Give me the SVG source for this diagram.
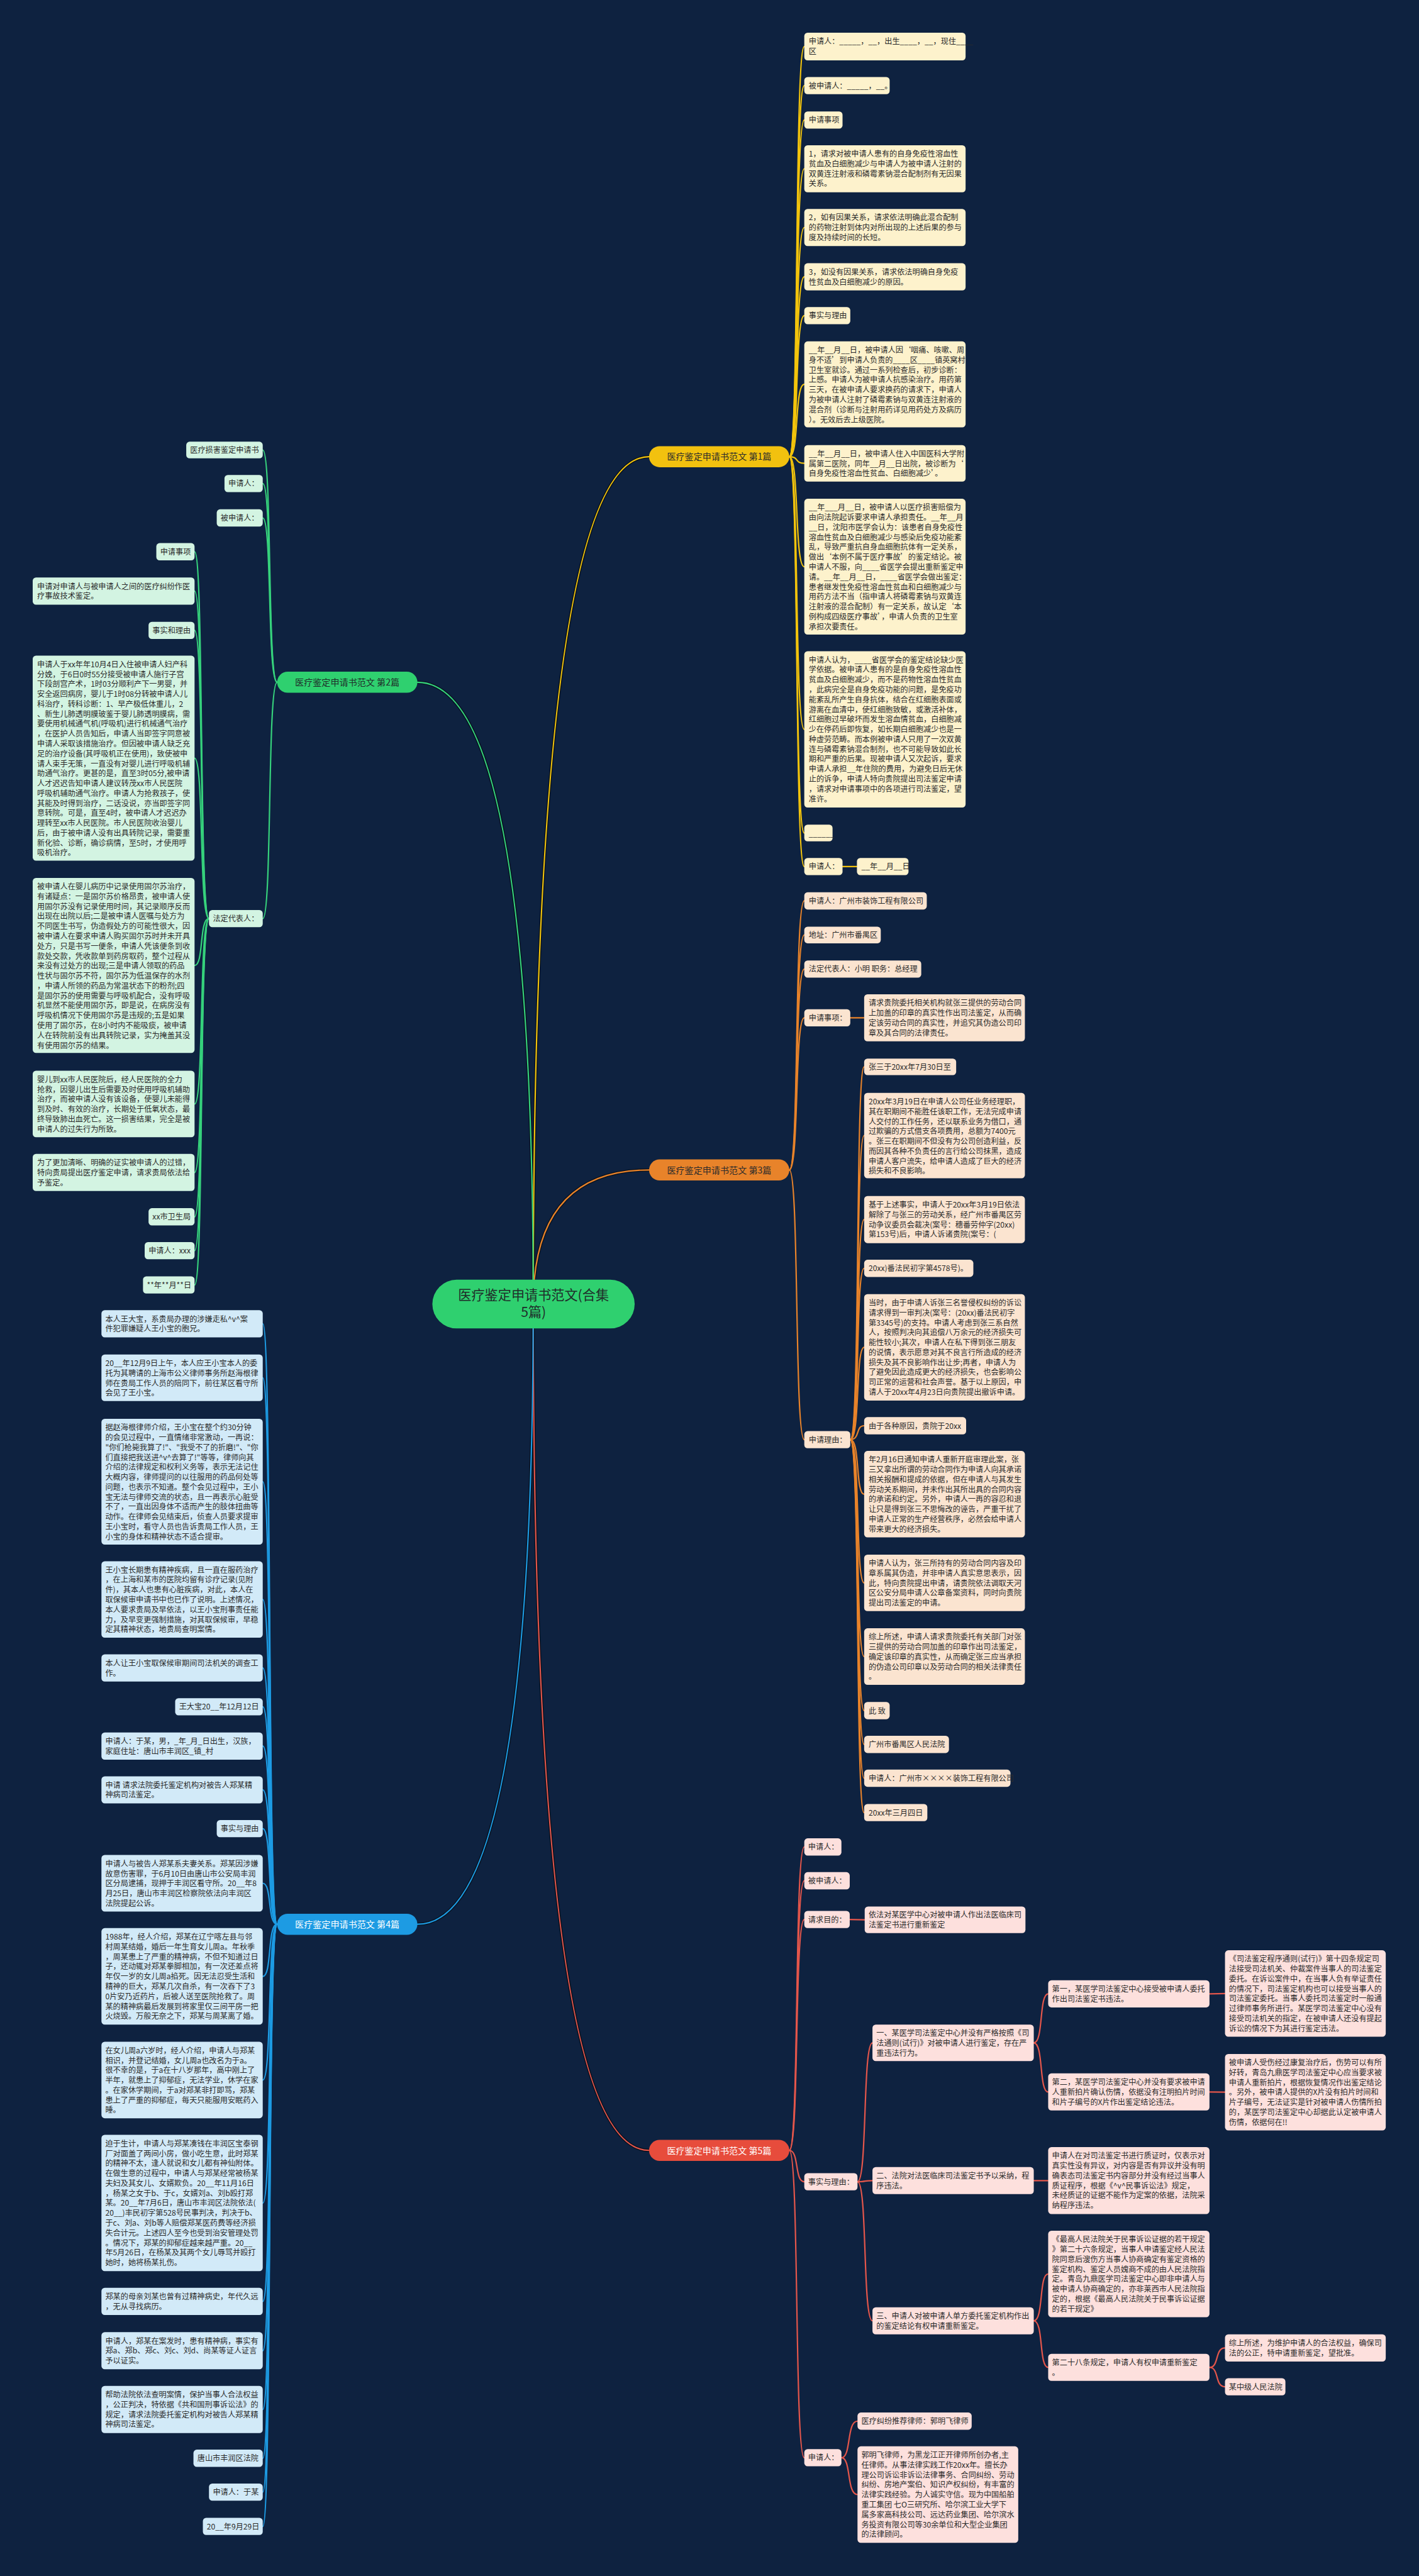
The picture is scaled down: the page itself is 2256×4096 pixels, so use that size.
<svg xmlns="http://www.w3.org/2000/svg" width="2256" height="4096" viewBox="0 0 2256 4096">
<style>
.t{font-family:"Noto Sans CJK SC","Noto Sans",sans-serif;font-size:13.8px;fill:#2b2b2b}
.bt{font-family:"Noto Sans CJK SC","Noto Sans",sans-serif;font-size:16px;text-anchor:middle}
.ct{font-family:"Noto Sans CJK SC","Noto Sans",sans-serif;font-size:24px;text-anchor:middle;fill:#1f2d2a}
.s1{fill:#fdf2cc}.s2{fill:#d3f4e2}.s3{fill:#fbe4d0}.s4{fill:#d2eaf8}.s5{fill:#fde0dd}
.c{fill:none;stroke-linecap:round;stroke-width:2.5}
.c1{stroke:#f3c40c}.c2{stroke:#36d27c}.c3{stroke:#e8832a}.c4{stroke:#1d9be3}.c5{stroke:#e4564b}
.sh{fill:none;stroke:#07111f;stroke-width:5.5;stroke-linecap:round}
</style>
<rect x="0" y="0" width="2256" height="4096" fill="#0e2240"/>
<g transform="scale(0.88125)">
<g id="connectors">
<path class="sh" d="M962 2353 Q962 824 1171 824"/>
<path class="sh" d="M962 2353 Q962 2111 1171 2111"/>
<path class="sh" d="M962 2353 Q962 3880 1171 3880"/>
<path class="sh" d="M962 2353 Q962 1231 753 1231"/>
<path class="sh" d="M962 2353 Q962 3472 753 3472"/>
<path class="c c1" stroke-width="3" d="M962 2353 Q962 824 1171 824"/>
<path class="c c3" stroke-width="3" d="M962 2353 Q962 2111 1171 2111"/>
<path class="c c5" stroke-width="3" d="M962 2353 Q962 3880 1171 3880"/>
<path class="c c2" stroke-width="3" d="M962 2353 Q962 1231 753 1231"/>
<path class="c c4" stroke-width="3" d="M962 2353 Q962 3472 753 3472"/>
<g class="c c1">
<path d="M1424 824 C1442 824 1433 84 1451 84"/>
<path d="M1424 824 C1442 824 1433 154.5 1451 154.5"/>
<path d="M1424 824 C1442 824 1433 216.5 1451 216.5"/>
<path d="M1424 824 C1442 824 1433 304.5 1451 304.5"/>
<path d="M1424 824 C1442 824 1433 410.5 1451 410.5"/>
<path d="M1424 824 C1442 824 1433 499.5 1451 499.5"/>
<path d="M1424 824 C1442 824 1433 569.5 1451 569.5"/>
<path d="M1424 824 C1442 824 1433 693.5 1451 693.5"/>
<path d="M1424 824 C1442 824 1433 836 1451 836"/>
<path d="M1424 824 C1442 824 1433 1022.5 1451 1022.5"/>
<path d="M1424 824 C1442 824 1433 1316 1451 1316"/>
<path d="M1424 824 C1442 824 1433 1503 1451 1503"/>
<path d="M1424 824 C1442 824 1433 1563.5 1451 1563.5"/>
<path d="M1520 1563.5 L1546 1563.5"/>
</g>
<g class="c c2">
<path d="M500 1231 C482 1231 491 812 474 812"/>
<path d="M500 1231 C482 1231 491 872.5 474 872.5"/>
<path d="M500 1231 C482 1231 491 934.5 474 934.5"/>
<path d="M500 1231 C482 1231 491 1657.5 474 1657.5"/>
<path d="M377 1657.5 C359 1657.5 368 995.5 351 995.5"/>
<path d="M377 1657.5 C359 1657.5 368 1066.5 351 1066.5"/>
<path d="M377 1657.5 C359 1657.5 368 1137.5 351 1137.5"/>
<path d="M377 1657.5 C359 1657.5 368 1368 351 1368"/>
<path d="M377 1657.5 C359 1657.5 368 1742 351 1742"/>
<path d="M377 1657.5 C359 1657.5 368 1992 351 1992"/>
<path d="M377 1657.5 C359 1657.5 368 2115.5 351 2115.5"/>
<path d="M377 1657.5 C359 1657.5 368 2195.5 351 2195.5"/>
<path d="M377 1657.5 C359 1657.5 368 2256.5 351 2256.5"/>
<path d="M377 1657.5 C359 1657.5 368 2318.5 351 2318.5"/>
</g>
<g class="c c3">
<path d="M1424 2111 C1442 2111 1433 1625.5 1451 1625.5"/>
<path d="M1424 2111 C1442 2111 1433 1687 1451 1687"/>
<path d="M1424 2111 C1442 2111 1433 1748.5 1451 1748.5"/>
<path d="M1424 2111 C1442 2111 1433 1836.5 1451 1836.5"/>
<path d="M1424 2111 C1442 2111 1433 2597.5 1451 2597.5"/>
<path d="M1534 1836.5 L1559 1836.5"/>
<path d="M1534 2597.5 C1552 2597.5 1543 1925 1559 1925"/>
<path d="M1534 2597.5 C1552 2597.5 1543 2049 1559 2049"/>
<path d="M1534 2597.5 C1552 2597.5 1543 2200.5 1559 2200.5"/>
<path d="M1534 2597.5 C1552 2597.5 1543 2288.5 1559 2288.5"/>
<path d="M1534 2597.5 C1552 2597.5 1543 2431 1559 2431"/>
<path d="M1534 2597.5 C1552 2597.5 1543 2572.5 1559 2572.5"/>
<path d="M1534 2597.5 C1552 2597.5 1543 2696 1559 2696"/>
<path d="M1534 2597.5 C1552 2597.5 1543 2856 1559 2856"/>
<path d="M1534 2597.5 C1552 2597.5 1543 2989 1559 2989"/>
<path d="M1534 2597.5 C1552 2597.5 1543 3086.5 1559 3086.5"/>
<path d="M1534 2597.5 C1552 2597.5 1543 3147.5 1559 3147.5"/>
<path d="M1534 2597.5 C1552 2597.5 1543 3208.5 1559 3208.5"/>
<path d="M1534 2597.5 C1552 2597.5 1543 3270.5 1559 3270.5"/>
</g>
<g class="c c4">
<path d="M500 3472 C482 3472 491 2388.5 474 2388.5"/>
<path d="M500 3472 C482 3472 491 2486 474 2486"/>
<path d="M500 3472 C482 3472 491 2673.5 474 2673.5"/>
<path d="M500 3472 C482 3472 491 2886 474 2886"/>
<path d="M500 3472 C482 3472 491 3009.5 474 3009.5"/>
<path d="M500 3472 C482 3472 491 3079.5 474 3079.5"/>
<path d="M500 3472 C482 3472 491 3150.5 474 3150.5"/>
<path d="M500 3472 C482 3472 491 3229.5 474 3229.5"/>
<path d="M500 3472 C482 3472 491 3299.5 474 3299.5"/>
<path d="M500 3472 C482 3472 491 3398 474 3398"/>
<path d="M500 3472 C482 3472 491 3566 474 3566"/>
<path d="M500 3472 C482 3472 491 3753 474 3753"/>
<path d="M500 3472 C482 3472 491 3975 474 3975"/>
<path d="M500 3472 C482 3472 491 4152.5 474 4152.5"/>
<path d="M500 3472 C482 3472 491 4241.5 474 4241.5"/>
<path d="M500 3472 C482 3472 491 4347.5 474 4347.5"/>
<path d="M500 3472 C482 3472 491 4435.5 474 4435.5"/>
<path d="M500 3472 C482 3472 491 4496.5 474 4496.5"/>
<path d="M500 3472 C482 3472 491 4558.5 474 4558.5"/>
</g>
<g class="c c5">
<path d="M1424 3880 C1442 3880 1433 3332.5 1451 3332.5"/>
<path d="M1424 3880 C1442 3880 1433 3393.5 1451 3393.5"/>
<path d="M1424 3880 C1442 3880 1433 3463.5 1451 3463.5"/>
<path d="M1424 3880 C1442 3880 1433 3936.5 1451 3936.5"/>
<path d="M1424 3880 C1442 3880 1433 4434.5 1451 4434.5"/>
<path d="M1533 3463.5 L1560 3464"/>
<path d="M1547 3936.5 C1565 3936.5 1556 3686 1574 3686"/>
<path d="M1547 3936.5 C1565 3936.5 1556 3934.5 1574 3934.5"/>
<path d="M1547 3936.5 C1565 3936.5 1556 4187.5 1574 4187.5"/>
<path d="M1865 3686 C1883 3686 1874 3597.5 1891 3597.5"/>
<path d="M1865 3686 C1883 3686 1874 3774.5 1891 3774.5"/>
<path d="M2182 3597.5 L2210 3597"/>
<path d="M2182 3774.5 L2210 3775"/>
<path d="M1865 3934.5 L1891 3934.5"/>
<path d="M1865 4187.5 C1883 4187.5 1874 4103 1891 4103"/>
<path d="M1865 4187.5 C1883 4187.5 1874 4271.5 1891 4271.5"/>
<path d="M2182 4271.5 C2200 4271.5 2191 4236.5 2210 4236.5"/>
<path d="M2182 4271.5 C2200 4271.5 2191 4306.5 2210 4306.5"/>
<path d="M1518 4434.5 C1536 4434.5 1527 4368.5 1547 4368.5"/>
<path d="M1518 4434.5 C1536 4434.5 1527 4501 1547 4501"/>
</g>
</g>

<g id="center">
<rect x="780" y="2309" width="365" height="88" rx="44" fill="#2fd06f"/>
<text class="ct" x="962.5" y="2346">医疗鉴定申请书范文(合集</text>
<text class="ct" x="962.5" y="2376">5篇)</text>
</g>
<g id="branch1"><rect x="1171" y="805" width="253" height="38" rx="19" fill="#f2c10f"/><text class="bt" x="1297.5" y="830" fill="#2b2b2b">医疗鉴定申请书范文 第1篇</text></g>
<g id="branch2"><rect x="500" y="1212" width="253" height="38" rx="19" fill="#2fd06f"/><text class="bt" x="626.5" y="1237" fill="#1f2d2a">医疗鉴定申请书范文 第2篇</text></g>
<g id="branch3"><rect x="1171" y="2092" width="253" height="38" rx="19" fill="#e8832a"/><text class="bt" x="1297.5" y="2117" fill="#2b2b2b">医疗鉴定申请书范文 第3篇</text></g>
<g id="branch4"><rect x="500" y="3453" width="253" height="38" rx="19" fill="#1d9be3"/><text class="bt" x="626.5" y="3478" fill="#ffffff">医疗鉴定申请书范文 第4篇</text></g>
<g id="branch5"><rect x="1171" y="3861" width="253" height="38" rx="19" fill="#e74c3c"/><text class="bt" x="1297.5" y="3886" fill="#ffffff">医疗鉴定申请书范文 第5篇</text></g>

<g id="sec1">
<g id="n1_1"><rect class="s1" x="1451" y="59" width="291" height="50" rx="6"/><text class="t" x="1459" y="79.7"><tspan x="1459" dy="0">申请人：_____，__，出生____，__，现住____</tspan><tspan x="1459" dy="17.9">区</tspan></text></g>
<g id="n1_2"><rect class="s1" x="1451" y="139" width="154" height="31" rx="6"/><text class="t" x="1459" y="159.7">被申请人：_____，__。</text></g>
<g id="n1_3"><rect class="s1" x="1451" y="201" width="69" height="31" rx="6"/><text class="t" x="1459" y="221.7">申请事项</text></g>
<g id="n1_4"><rect class="s1" x="1451" y="262" width="291" height="85" rx="6"/><text class="t" x="1459" y="282.7"><tspan x="1459" dy="0">1，请求对被申请人患有的自身免疫性溶血性</tspan><tspan x="1459" dy="17.9">贫血及白细胞减少与申请人为被申请人注射的</tspan><tspan x="1459" dy="17.9">双黄连注射液和磷霉素钠混合配制剂有无因果</tspan><tspan x="1459" dy="17.9">关系。</tspan></text></g>
<g id="n1_5"><rect class="s1" x="1451" y="377" width="291" height="67" rx="6"/><text class="t" x="1459" y="397.7"><tspan x="1459" dy="0">2，如有因果关系，请求依法明确此混合配制</tspan><tspan x="1459" dy="17.9">的药物注射到体内对所出现的上述后果的参与</tspan><tspan x="1459" dy="17.9">度及持续时间的长短。</tspan></text></g>
<g id="n1_6"><rect class="s1" x="1451" y="475" width="291" height="49" rx="6"/><text class="t" x="1459" y="495.7"><tspan x="1459" dy="0">3，如没有因果关系，请求依法明确自身免疫</tspan><tspan x="1459" dy="17.9">性贫血及白细胞减少的原因。</tspan></text></g>
<g id="n1_7"><rect class="s1" x="1451" y="554" width="83" height="31" rx="6"/><text class="t" x="1459" y="574.7">事实与理由</text></g>
<g id="n1_8"><rect class="s1" x="1451" y="616" width="291" height="155" rx="6"/><text class="t" x="1459" y="636.7"><tspan x="1459" dy="0">__年__月__日，被申请人因‘咽痛、咳嗽、周</tspan><tspan x="1459" dy="17.9">身不适’到申请人负责的____区____镇英窝村</tspan><tspan x="1459" dy="17.9">卫生室就诊。通过一系列检查后，初步诊断：</tspan><tspan x="1459" dy="17.9">上感。申请人为被申请人抗感染治疗。用药第</tspan><tspan x="1459" dy="17.9">三天，在被申请人要求换药的请求下，申请人</tspan><tspan x="1459" dy="17.9">为被申请人注射了磷霉素钠与双黄连注射液的</tspan><tspan x="1459" dy="17.9">混合剂（诊断与注射用药详见用药处方及病历</tspan><tspan x="1459" dy="17.9">）。无效后去上级医院。</tspan></text></g>
<g id="n1_9"><rect class="s1" x="1451" y="803" width="291" height="66" rx="6"/><text class="t" x="1459" y="823.7"><tspan x="1459" dy="0">__年__月__日，被申请人住入中国医科大学附</tspan><tspan x="1459" dy="17.9">属第二医院，同年__月__日出院，被诊断为‘</tspan><tspan x="1459" dy="17.9">自身免疫性溶血性贫血、白细胞减少’。</tspan></text></g>
<g id="n1_10"><rect class="s1" x="1451" y="900" width="291" height="245" rx="6"/><text class="t" x="1459" y="920.7"><tspan x="1459" dy="0">__年___月__日，被申请人以医疗损害赔偿为</tspan><tspan x="1459" dy="17.9">由向法院起诉要求申请人承担责任。__年__月</tspan><tspan x="1459" dy="17.9">__日，沈阳市医学会认为：该患者自身免疫性</tspan><tspan x="1459" dy="17.9">溶血性贫血及白细胞减少与感染后免疫功能紊</tspan><tspan x="1459" dy="17.9">乱，导致严重抗自身血细胞抗体有一定关系，</tspan><tspan x="1459" dy="17.9">做出‘本例不属于医疗事故’的鉴定结论。被</tspan><tspan x="1459" dy="17.9">申请人不服，向____省医学会提出重新鉴定申</tspan><tspan x="1459" dy="17.9">请。__年__月__日，____省医学会做出鉴定：</tspan><tspan x="1459" dy="17.9">患者继发性免疫性溶血性贫血和白细胞减少与</tspan><tspan x="1459" dy="17.9">用药方法不当（指申请人将磷霉素钠与双黄连</tspan><tspan x="1459" dy="17.9">注射液的混合配制）有一定关系，故认定‘本</tspan><tspan x="1459" dy="17.9">例构成四级医疗事故’，申请人负责的卫生室</tspan><tspan x="1459" dy="17.9">承担次要责任。</tspan></text></g>
<g id="n1_11"><rect class="s1" x="1451" y="1175" width="291" height="282" rx="6"/><text class="t" x="1459" y="1195.7"><tspan x="1459" dy="0">申请人认为，____省医学会的鉴定结论缺少医</tspan><tspan x="1459" dy="17.9">学依据。被申请人患有的是自身免疫性溶血性</tspan><tspan x="1459" dy="17.9">贫血及白细胞减少，而不是药物性溶血性贫血</tspan><tspan x="1459" dy="17.9">，此病完全是自身免疫功能的问题，是免疫功</tspan><tspan x="1459" dy="17.9">能紊乱所产生自身抗体，结合在红细胞表面或</tspan><tspan x="1459" dy="17.9">游离在血清中，使红细胞致敏，或激活补体，</tspan><tspan x="1459" dy="17.9">红细胞过早破坏而发生溶血情贫血，白细胞减</tspan><tspan x="1459" dy="17.9">少在停药后即恢复，如长期白细胞减少也是一</tspan><tspan x="1459" dy="17.9">种虚劳范畴。而本例被申请人只用了一次双黄</tspan><tspan x="1459" dy="17.9">连与磷霉素钠混合制剂，也不可能导致如此长</tspan><tspan x="1459" dy="17.9">期和严重的后果。现被申请人又次起诉，要求</tspan><tspan x="1459" dy="17.9">申请人承担__年住院的费用，为避免日后无休</tspan><tspan x="1459" dy="17.9">止的诉争，申请人特向贵院提出司法鉴定申请</tspan><tspan x="1459" dy="17.9">，请求对申请事项中的各项进行司法鉴定，望</tspan><tspan x="1459" dy="17.9">准许。</tspan></text></g>
<g id="n1_12"><rect class="s1" x="1451" y="1488" width="51" height="30" rx="6"/><text class="t" x="1459" y="1508.7">______</text></g>
<g id="n1_13"><rect class="s1" x="1451" y="1548" width="69" height="31" rx="6"/><text class="t" x="1459" y="1568.7">申请人：</text></g>
<g id="n1_14"><rect class="s1" x="1546" y="1548" width="93" height="31" rx="6"/><text class="t" x="1554" y="1568.7">__年__月__日</text></g>
</g>

<g id="sec2">
<g id="n2_a"><rect class="s2" x="336" y="797" width="138" height="30" rx="6"/><text class="t" x="343" y="817.2">医疗损害鉴定申请书</text></g>
<g id="n2_b"><rect class="s2" x="405" y="857" width="69" height="31" rx="6"/><text class="t" x="412" y="877.7">申请人：</text></g>
<g id="n2_c"><rect class="s2" x="391" y="919" width="83" height="31" rx="6"/><text class="t" x="398" y="939.7">被申请人：</text></g>
<g id="n2_d"><rect class="s2" x="377" y="1642" width="97" height="31" rx="6"/><text class="t" x="384" y="1662.7">法定代表人：</text></g>
<g id="n2_d1"><rect class="s2" x="282" y="980" width="69" height="31" rx="6"/><text class="t" x="289" y="1000.7">申请事项</text></g>
<g id="n2_d2"><rect class="s2" x="59" y="1042" width="292" height="49" rx="6"/><text class="t" x="67" y="1062.7"><tspan x="67" dy="0">申请对申请人与被申请人之间的医疗纠纷作医</tspan><tspan x="67" dy="17.9">疗事故技术鉴定。</tspan></text></g>
<g id="n2_d3"><rect class="s2" x="268" y="1122" width="83" height="31" rx="6"/><text class="t" x="275" y="1142.7">事实和理由</text></g>
<g id="n2_d4"><rect class="s2" x="59" y="1183" width="292" height="370" rx="6"/><text class="t" x="67" y="1203.7"><tspan x="67" dy="0">申请人于xx年年10月4日入住被申请人妇产科</tspan><tspan x="67" dy="17.9">分娩，于6日0时55分接受被申请人施行子宫</tspan><tspan x="67" dy="17.9">下段剖宫产术，1时03分顺利产下一男婴，并</tspan><tspan x="67" dy="17.9">安全返回病房，婴儿于1时08分转被申请人儿</tspan><tspan x="67" dy="17.9">科治疗，转科诊断：1、早产极低体重儿，2</tspan><tspan x="67" dy="17.9">、新生儿肺透明膜玻鉴于婴儿肺透明膜病，需</tspan><tspan x="67" dy="17.9">要使用机械通气机(呼吸机)进行机械通气治疗</tspan><tspan x="67" dy="17.9">，在医护人员告知后，申请人当即签字同意被</tspan><tspan x="67" dy="17.9">申请人采取该措施治疗。但因被申请人缺乏充</tspan><tspan x="67" dy="17.9">足的治疗设备(其呼吸机正在使用)，致使被申</tspan><tspan x="67" dy="17.9">请人束手无策，一直没有对婴儿进行呼吸机辅</tspan><tspan x="67" dy="17.9">助通气治疗。更甚的是，直至3时05分,被申请</tspan><tspan x="67" dy="17.9">人才迟迟告知申请人建议转茂xx市人民医院</tspan><tspan x="67" dy="17.9">呼吸机辅助通气治疗。申请人为抢救孩子，使</tspan><tspan x="67" dy="17.9">其能及时得到治疗，二话没说，亦当即签字同</tspan><tspan x="67" dy="17.9">意转院。可是，直至4时，被申请人才迟迟办</tspan><tspan x="67" dy="17.9">理转至xx市人民医院。市人民医院收治婴儿</tspan><tspan x="67" dy="17.9">后，由于被申请人没有出具转院记录，需要重</tspan><tspan x="67" dy="17.9">新化验、诊断，确诊病情，至5时，才使用呼</tspan><tspan x="67" dy="17.9">吸机治疗。</tspan></text></g>
<g id="n2_d5"><rect class="s2" x="59" y="1584" width="292" height="316" rx="6"/><text class="t" x="67" y="1604.7"><tspan x="67" dy="0">被申请人在婴儿病历中记录使用固尔苏治疗，</tspan><tspan x="67" dy="17.9">有诸疑点：一是固尔苏价格昂贵，被申请人使</tspan><tspan x="67" dy="17.9">用固尔苏没有记录使用时间，其记录顺序反而</tspan><tspan x="67" dy="17.9">出现在出院以后;二是被申请人医嘱与处方为</tspan><tspan x="67" dy="17.9">不同医生书写，伪造假处方的可能性很大，因</tspan><tspan x="67" dy="17.9">被申请人在要求申请人购买固尔苏时并未开具</tspan><tspan x="67" dy="17.9">处方，只是书写一便条，申请人凭该便条到收</tspan><tspan x="67" dy="17.9">款处交款，凭收款单到药房取药，整个过程从</tspan><tspan x="67" dy="17.9">来没有过处方的出现;三是申请人领取的药品</tspan><tspan x="67" dy="17.9">性状与固尔苏不符，固尔苏为低温保存的水剂</tspan><tspan x="67" dy="17.9">，申请人所领的药品为常温状态下的粉剂;四</tspan><tspan x="67" dy="17.9">是固尔苏的使用需要与呼吸机配合，没有呼吸</tspan><tspan x="67" dy="17.9">机显然不能使用固尔苏，即是说，在病房没有</tspan><tspan x="67" dy="17.9">呼吸机情况下使用固尔苏是违规的;五是如果</tspan><tspan x="67" dy="17.9">使用了固尔苏，在8小时内不能吸痰，被申请</tspan><tspan x="67" dy="17.9">人在转院前没有出具转院记录，实为掩盖其没</tspan><tspan x="67" dy="17.9">有使用固尔苏的结果。</tspan></text></g>
<g id="n2_d6"><rect class="s2" x="59" y="1932" width="292" height="120" rx="6"/><text class="t" x="67" y="1952.7"><tspan x="67" dy="0">婴儿到xx市人民医院后，经人民医院的全力</tspan><tspan x="67" dy="17.9">抢救，因婴儿出生后需要及时使用呼吸机辅助</tspan><tspan x="67" dy="17.9">治疗，而被申请人没有该设备，使婴儿未能得</tspan><tspan x="67" dy="17.9">到及时、有效的治疗，长期处于低氧状态，最</tspan><tspan x="67" dy="17.9">终导致肺出血死亡。这一损害结果，完全是被</tspan><tspan x="67" dy="17.9">申请人的过失行为所致。</tspan></text></g>
<g id="n2_d7"><rect class="s2" x="59" y="2082" width="292" height="67" rx="6"/><text class="t" x="67" y="2102.7"><tspan x="67" dy="0">为了更加清晰、明确的证实被申请人的过错，</tspan><tspan x="67" dy="17.9">特向贵局提出医疗鉴定申请，请求贵局依法给</tspan><tspan x="67" dy="17.9">予鉴定。</tspan></text></g>
<g id="n2_d8"><rect class="s2" x="268" y="2180" width="83" height="31" rx="6"/><text class="t" x="275" y="2200.7">xx市卫生局</text></g>
<g id="n2_d9"><rect class="s2" x="261" y="2241" width="90" height="31" rx="6"/><text class="t" x="268" y="2261.7">申请人：xxx</text></g>
<g id="n2_d10"><rect class="s2" x="258" y="2303" width="93" height="31" rx="6"/><text class="t" x="265" y="2323.7">**年**月**日</text></g>
</g>

<g id="sec3">
<g id="n3_1"><rect class="s3" x="1451" y="1610" width="221" height="31" rx="6"/><text class="t" x="1459" y="1630.7">申请人：广州市装饰工程有限公司</text></g>
<g id="n3_2"><rect class="s3" x="1451" y="1672" width="138" height="30" rx="6"/><text class="t" x="1459" y="1692.2">地址：广州市番禺区</text></g>
<g id="n3_3"><rect class="s3" x="1451" y="1733" width="211" height="31" rx="6"/><text class="t" x="1459" y="1753.7">法定代表人：小明 职务：总经理</text></g>
<g id="n3_4"><rect class="s3" x="1451" y="1821" width="83" height="31" rx="6"/><text class="t" x="1459" y="1841.7">申请事项：</text></g>
<g id="n3_4a"><rect class="s3" x="1559" y="1794" width="290" height="85" rx="6"/><text class="t" x="1567" y="1814.7"><tspan x="1567" dy="0">请求贵院委托相关机构就张三提供的劳动合同</tspan><tspan x="1567" dy="17.9">上加盖的印章的真实性作出司法鉴定，从而确</tspan><tspan x="1567" dy="17.9">定该劳动合同的真实性，并追究其伪造公司印</tspan><tspan x="1567" dy="17.9">章及其合同的法律责任。</tspan></text></g>
<g id="n3_5"><rect class="s3" x="1451" y="2582" width="83" height="31" rx="6"/><text class="t" x="1459" y="2602.7">申请理由：</text></g>
<g id="n3_5a"><rect class="s3" x="1559" y="1910" width="166" height="30" rx="6"/><text class="t" x="1567" y="1930.2">张三于20xx年7月30日至</text></g>
<g id="n3_5b"><rect class="s3" x="1559" y="1972" width="290" height="154" rx="6"/><text class="t" x="1567" y="1992.7"><tspan x="1567" dy="0">20xx年3月19日在申请人公司任业务经理职，</tspan><tspan x="1567" dy="17.9">其在职期间不能胜任该职工作，无法完成申请</tspan><tspan x="1567" dy="17.9">人交付的工作任务，还以联系业务为借口，通</tspan><tspan x="1567" dy="17.9">过欺骗的方式借支各项费用，总额为7400元</tspan><tspan x="1567" dy="17.9">。张三在职期间不但没有为公司创造利益，反</tspan><tspan x="1567" dy="17.9">而因其各种不负责任的言行给公司抹黑，造成</tspan><tspan x="1567" dy="17.9">申请人客户流失，给申请人造成了巨大的经济</tspan><tspan x="1567" dy="17.9">损失和不良影响。</tspan></text></g>
<g id="n3_5c"><rect class="s3" x="1559" y="2158" width="290" height="85" rx="6"/><text class="t" x="1567" y="2178.7"><tspan x="1567" dy="0">基于上述事实，申请人于20xx年3月19日依法</tspan><tspan x="1567" dy="17.9">解除了与张三的劳动关系，经广州市番禺区劳</tspan><tspan x="1567" dy="17.9">动争议委员会裁决(案号：穗番劳仲字(20xx)</tspan><tspan x="1567" dy="17.9">第153号)后，申请人诉诸贵院(案号：(</tspan></text></g>
<g id="n3_5d"><rect class="s3" x="1559" y="2273" width="197" height="31" rx="6"/><text class="t" x="1567" y="2293.7">20xx)番法民初字第4578号)。</text></g>
<g id="n3_5e"><rect class="s3" x="1559" y="2335" width="290" height="192" rx="6"/><text class="t" x="1567" y="2355.7"><tspan x="1567" dy="0">当时，由于申请人诉张三名誉侵权纠纷的诉讼</tspan><tspan x="1567" dy="17.9">请求得到一审判决(案号：(20xx)番法民初字</tspan><tspan x="1567" dy="17.9">第3345号)的支持。申请人考虑到张三系自然</tspan><tspan x="1567" dy="17.9">人，按照判决向其追偿八万余元的经济损失可</tspan><tspan x="1567" dy="17.9">能性较小;其次，申请人在私下得到张三朋友</tspan><tspan x="1567" dy="17.9">的说情，表示愿意对其不良言行所造成的经济</tspan><tspan x="1567" dy="17.9">损失及其不良影响作出让步;再者，申请人为</tspan><tspan x="1567" dy="17.9">了避免因此造成更大的经济损失，也会影响公</tspan><tspan x="1567" dy="17.9">司正常的运营和社会声誉。基于以上原因，申</tspan><tspan x="1567" dy="17.9">请人于20xx年4月23日向贵院提出撤诉申请。</tspan></text></g>
<g id="n3_5f"><rect class="s3" x="1559" y="2557" width="184" height="31" rx="6"/><text class="t" x="1567" y="2577.7">由于各种原因，贵院于20xx</text></g>
<g id="n3_5g"><rect class="s3" x="1559" y="2618" width="290" height="156" rx="6"/><text class="t" x="1567" y="2638.7"><tspan x="1567" dy="0">年2月16日通知申请人重新开庭审理此案，张</tspan><tspan x="1567" dy="17.9">三又拿出所谓的劳动合同作为申请人向其承诺</tspan><tspan x="1567" dy="17.9">相关报酬和提成的依据，但在申请人与其发生</tspan><tspan x="1567" dy="17.9">劳动关系期间，并未作出其所出具的合同内容</tspan><tspan x="1567" dy="17.9">的承诺和约定。另外，申请人一再的容忍和退</tspan><tspan x="1567" dy="17.9">让只是得到张三不思悔改的诬告，严重干扰了</tspan><tspan x="1567" dy="17.9">申请人正常的生产经营秩序，必然会给申请人</tspan><tspan x="1567" dy="17.9">带来更大的经济损失。</tspan></text></g>
<g id="n3_5h"><rect class="s3" x="1559" y="2805" width="290" height="102" rx="6"/><text class="t" x="1567" y="2825.7"><tspan x="1567" dy="0">申请人认为，张三所持有的劳动合同内容及印</tspan><tspan x="1567" dy="17.9">章系属其伪造，并非申请人真实意思表示，因</tspan><tspan x="1567" dy="17.9">此，特向贵院提出申请，请贵院依法调取天河</tspan><tspan x="1567" dy="17.9">区公安分局申请人公章备案资料，同时向贵院</tspan><tspan x="1567" dy="17.9">提出司法鉴定的申请。</tspan></text></g>
<g id="n3_5i"><rect class="s3" x="1559" y="2938" width="290" height="102" rx="6"/><text class="t" x="1567" y="2958.7"><tspan x="1567" dy="0">综上所述，申请人请求贵院委托有关部门对张</tspan><tspan x="1567" dy="17.9">三提供的劳动合同加盖的印章作出司法鉴定，</tspan><tspan x="1567" dy="17.9">确定该印章的真实性，从而确定张三应当承担</tspan><tspan x="1567" dy="17.9">的伪造公司印章以及劳动合同的相关法律责任</tspan><tspan x="1567" dy="17.9">。</tspan></text></g>
<g id="n3_5j"><rect class="s3" x="1559" y="3071" width="46" height="31" rx="6"/><text class="t" x="1567" y="3091.7">此 致</text></g>
<g id="n3_5k"><rect class="s3" x="1559" y="3132" width="153" height="31" rx="6"/><text class="t" x="1567" y="3152.7">广州市番禺区人民法院</text></g>
<g id="n3_5l"><rect class="s3" x="1559" y="3193" width="264" height="31" rx="6"/><text class="t" x="1567" y="3213.7">申请人：广州市××××装饰工程有限公司</text></g>
<g id="n3_5m"><rect class="s3" x="1559" y="3255" width="114" height="31" rx="6"/><text class="t" x="1567" y="3275.7">20xx年三月四日</text></g>
</g>

<g id="sec4">
<g id="n4_1"><rect class="s4" x="183" y="2364" width="291" height="49" rx="6"/><text class="t" x="190" y="2384.7"><tspan x="190" dy="0">本人王大宝，系贵局办理的涉嫌走私^v^案</tspan><tspan x="190" dy="17.9">件犯罪嫌疑人王小宝的胞兄。</tspan></text></g>
<g id="n4_2"><rect class="s4" x="183" y="2444" width="291" height="84" rx="6"/><text class="t" x="190" y="2464.7"><tspan x="190" dy="0">20__年12月9日上午，本人应王小宝本人的委</tspan><tspan x="190" dy="17.9">托为其聘请的上海市公义律师事务所赵海根律</tspan><tspan x="190" dy="17.9">师在贵局工作人员的陪同下，前往某区看守所</tspan><tspan x="190" dy="17.9">会见了王小宝。</tspan></text></g>
<g id="n4_3"><rect class="s4" x="183" y="2560" width="291" height="227" rx="6"/><text class="t" x="190" y="2580.7"><tspan x="190" dy="0">据赵海根律师介绍，王小宝在整个约30分钟</tspan><tspan x="190" dy="17.9">的会见过程中，一直情绪非常激动，一再说：</tspan><tspan x="190" dy="17.9">"你们枪毙我算了!"、"我受不了的折磨!"、"你</tspan><tspan x="190" dy="17.9">们直接把我送进^v^去算了!"等等，律师向其</tspan><tspan x="190" dy="17.9">介绍的法律规定和权利义务等，表示无法记住</tspan><tspan x="190" dy="17.9">大概内容，律师提问的以往服用的药品何处等</tspan><tspan x="190" dy="17.9">问题，也表示不知道。整个会见过程中，王小</tspan><tspan x="190" dy="17.9">宝无法与律师交流的状态，且一再表示心脏受</tspan><tspan x="190" dy="17.9">不了，一直出因身体不适而产生的肢体扭曲等</tspan><tspan x="190" dy="17.9">动作。在律师会见结束后，侦查人员要求提审</tspan><tspan x="190" dy="17.9">王小宝时，看守人员也告诉贵局工作人员，王</tspan><tspan x="190" dy="17.9">小宝的身体和精神状态不适合提审。</tspan></text></g>
<g id="n4_4"><rect class="s4" x="183" y="2817" width="291" height="138" rx="6"/><text class="t" x="190" y="2837.7"><tspan x="190" dy="0">王小宝长期患有精神疾病，且一直在服药治疗</tspan><tspan x="190" dy="17.9">，在上海和某市的医院均留有诊疗记录(见附</tspan><tspan x="190" dy="17.9">件)，其本人也患有心脏疾病，对此，本人在</tspan><tspan x="190" dy="17.9">取保候审申请书中也已作了说明。上述情况，</tspan><tspan x="190" dy="17.9">本人要求贵局及早依法，以王小宝刑事责任能</tspan><tspan x="190" dy="17.9">力，及早变更强制措施，对其取保候审，早稳</tspan><tspan x="190" dy="17.9">定其精神状态，地贵局查明案情。</tspan></text></g>
<g id="n4_5"><rect class="s4" x="183" y="2985" width="291" height="49" rx="6"/><text class="t" x="190" y="3005.7"><tspan x="190" dy="0">本人让王小宝取保候审期间司法机关的调查工</tspan><tspan x="190" dy="17.9">作。</tspan></text></g>
<g id="n4_6"><rect class="s4" x="316" y="3064" width="158" height="31" rx="6"/><text class="t" x="323" y="3084.7">王大宝20__年12月12日</text></g>
<g id="n4_7"><rect class="s4" x="183" y="3126" width="291" height="49" rx="6"/><text class="t" x="190" y="3146.7"><tspan x="190" dy="0">申请人：于某，男，_年_月_日出生，汉族，</tspan><tspan x="190" dy="17.9">家庭住址：唐山市丰润区_镇_村</tspan></text></g>
<g id="n4_8"><rect class="s4" x="183" y="3205" width="291" height="49" rx="6"/><text class="t" x="190" y="3225.7"><tspan x="190" dy="0">申请 请求法院委托鉴定机构对被告人郑某精</tspan><tspan x="190" dy="17.9">神病司法鉴定。</tspan></text></g>
<g id="n4_9"><rect class="s4" x="391" y="3284" width="83" height="31" rx="6"/><text class="t" x="398" y="3304.7">事实与理由</text></g>
<g id="n4_10"><rect class="s4" x="183" y="3347" width="291" height="102" rx="6"/><text class="t" x="190" y="3367.7"><tspan x="190" dy="0">申请人与被告人郑某系夫妻关系。郑某因涉嫌</tspan><tspan x="190" dy="17.9">故意伤害罪，于6月10日由唐山市公安局丰润</tspan><tspan x="190" dy="17.9">区分局逮捕，现押于丰润区看守所。20__年8</tspan><tspan x="190" dy="17.9">月25日，唐山市丰润区检察院依法向丰润区</tspan><tspan x="190" dy="17.9">法院提起公诉。</tspan></text></g>
<g id="n4_11"><rect class="s4" x="183" y="3479" width="291" height="174" rx="6"/><text class="t" x="190" y="3499.7"><tspan x="190" dy="0">1988年，经人介绍，郑某在辽宁喀左县与邻</tspan><tspan x="190" dy="17.9">村周某结婚，婚后一年生育女儿周a。年秋季</tspan><tspan x="190" dy="17.9">，周某患上了严重的精神病，不但不知道过日</tspan><tspan x="190" dy="17.9">子，还动辄对郑某拳脚相加，有一次还差点将</tspan><tspan x="190" dy="17.9">年仅一岁的女儿周a掐死。因无法忍受生活和</tspan><tspan x="190" dy="17.9">精神的巨大，郑某几次自杀，有一次吞下了3</tspan><tspan x="190" dy="17.9">0片安乃近药片，后被人送至医院抢救了。周</tspan><tspan x="190" dy="17.9">某的精神病最后发展到将家里仅三间平房一把</tspan><tspan x="190" dy="17.9">火烧毁。万般无奈之下，郑某与周某离了婚。</tspan></text></g>
<g id="n4_12"><rect class="s4" x="183" y="3684" width="291" height="138" rx="6"/><text class="t" x="190" y="3704.7"><tspan x="190" dy="0">在女儿周a六岁时，经人介绍，申请人与郑某</tspan><tspan x="190" dy="17.9">相识，并登记结婚，女儿周a也改名为于a。</tspan><tspan x="190" dy="17.9">很不幸的是，于a在十八岁那年，高中刚上了</tspan><tspan x="190" dy="17.9">半年，就患上了抑郁症，无法学业，休学在家</tspan><tspan x="190" dy="17.9">。在家休学期间，于a对郑某非打即骂，郑某</tspan><tspan x="190" dy="17.9">患上了严重的抑郁症，每天只能服用安眠药入</tspan><tspan x="190" dy="17.9">睡。</tspan></text></g>
<g id="n4_13"><rect class="s4" x="183" y="3852" width="291" height="246" rx="6"/><text class="t" x="190" y="3872.7"><tspan x="190" dy="0">迫于生计，申请人与郑某凑钱在丰润区宝泰钢</tspan><tspan x="190" dy="17.9">厂对面盖了两间小房，做小吃生意，此时郑某</tspan><tspan x="190" dy="17.9">的精神不太，逢人就说和女儿都有神仙附体。</tspan><tspan x="190" dy="17.9">在做生意的过程中，申请人与郑某经常被杨某</tspan><tspan x="190" dy="17.9">夫妇及其女儿、女婿欺负。20__年11月16日</tspan><tspan x="190" dy="17.9">，杨某之女于b、于c，女婿刘a、刘b殴打郑</tspan><tspan x="190" dy="17.9">某。20__年7月6日，唐山市丰润区法院依法(</tspan><tspan x="190" dy="17.9">20__)丰民初字第528号民事判决，判决于b、</tspan><tspan x="190" dy="17.9">于c、刘a、刘b等人赔偿郑某医药费等经济损</tspan><tspan x="190" dy="17.9">失合计元。上述四人至今也受到治安管理处罚</tspan><tspan x="190" dy="17.9">。情况下，郑某的抑郁症越来越严重。20__</tspan><tspan x="190" dy="17.9">年5月26日，在杨某及其两个女儿辱骂并殴打</tspan><tspan x="190" dy="17.9">她时，她将杨某扎伤。</tspan></text></g>
<g id="n4_14"><rect class="s4" x="183" y="4128" width="291" height="49" rx="6"/><text class="t" x="190" y="4148.7"><tspan x="190" dy="0">郑某的母亲刘某也曾有过精神病史，年代久远</tspan><tspan x="190" dy="17.9">，无从寻找病历。</tspan></text></g>
<g id="n4_15"><rect class="s4" x="183" y="4208" width="291" height="67" rx="6"/><text class="t" x="190" y="4228.7"><tspan x="190" dy="0">申请人，郑某在案发时，患有精神病，事实有</tspan><tspan x="190" dy="17.9">郑a、郑b、郑c、刘c、刘d、尚某等证人证言</tspan><tspan x="190" dy="17.9">予以证实。</tspan></text></g>
<g id="n4_16"><rect class="s4" x="183" y="4305" width="291" height="85" rx="6"/><text class="t" x="190" y="4325.7"><tspan x="190" dy="0">帮助法院依法查明案情，保护当事人合法权益</tspan><tspan x="190" dy="17.9">，公正判决，特依据《共和国刑事诉讼法》的</tspan><tspan x="190" dy="17.9">规定，请求法院委托鉴定机构对被告人郑某精</tspan><tspan x="190" dy="17.9">神病司法鉴定。</tspan></text></g>
<g id="n4_17"><rect class="s4" x="349" y="4420" width="125" height="31" rx="6"/><text class="t" x="356" y="4440.7">唐山市丰润区法院</text></g>
<g id="n4_18"><rect class="s4" x="377" y="4481" width="97" height="31" rx="6"/><text class="t" x="384" y="4501.7">申请人：于某</text></g>
<g id="n4_19"><rect class="s4" x="366" y="4543" width="108" height="31" rx="6"/><text class="t" x="373" y="4563.7">20__年9月29日</text></g>
</g>

<g id="sec5">
<g id="n5_1"><rect class="s5" x="1451" y="3317" width="67" height="31" rx="6"/><text class="t" x="1458" y="3337.7">申请人：</text></g>
<g id="n5_2"><rect class="s5" x="1451" y="3378" width="82" height="31" rx="6"/><text class="t" x="1458" y="3398.7">被申请人：</text></g>
<g id="n5_3"><rect class="s5" x="1451" y="3448" width="82" height="31" rx="6"/><text class="t" x="1458" y="3468.7">请求目的：</text></g>
<g id="n5_3a"><rect class="s5" x="1560" y="3440" width="290" height="48" rx="6"/><text class="t" x="1567" y="3460.2"><tspan x="1567" dy="0">依法对某医学中心对被申请人作出法医临床司</tspan><tspan x="1567" dy="17.9">法鉴定书进行重新鉴定</tspan></text></g>
<g id="n5_4"><rect class="s5" x="1451" y="3921" width="96" height="31" rx="6"/><text class="t" x="1458" y="3941.7">事实与理由：</text></g>
<g id="n5_h1"><rect class="s5" x="1574" y="3653" width="291" height="66" rx="6"/><text class="t" x="1581" y="3673.7"><tspan x="1581" dy="0">一、某医学司法鉴定中心并没有严格按照《司</tspan><tspan x="1581" dy="17.9">法通则(试行)》对被申请人进行鉴定，存在严</tspan><tspan x="1581" dy="17.9">重违法行为。</tspan></text></g>
<g id="n5_h1a"><rect class="s5" x="1891" y="3573" width="291" height="49" rx="6"/><text class="t" x="1898" y="3593.7"><tspan x="1898" dy="0">第一，某医学司法鉴定中心接受被申请人委托</tspan><tspan x="1898" dy="17.9">作出司法鉴定书违法。</tspan></text></g>
<g id="n5_h1a1"><rect class="s5" x="2210" y="3519" width="290" height="156" rx="6"/><text class="t" x="2217" y="3539.7"><tspan x="2217" dy="0">《司法鉴定程序通则(试行)》第十四条规定司</tspan><tspan x="2217" dy="17.9">法接受司法机关、仲裁案件当事人的司法鉴定</tspan><tspan x="2217" dy="17.9">委托。在诉讼案件中，在当事人负有举证责任</tspan><tspan x="2217" dy="17.9">的情况下，司法鉴定机构也可以接受当事人的</tspan><tspan x="2217" dy="17.9">司法鉴定委托。当事人委托司法鉴定时一般通</tspan><tspan x="2217" dy="17.9">过律师事务所进行。某医学司法鉴定中心没有</tspan><tspan x="2217" dy="17.9">接受司法机关的指定，在被申请人还没有提起</tspan><tspan x="2217" dy="17.9">诉讼的情况下为其进行鉴定违法。</tspan></text></g>
<g id="n5_h1b"><rect class="s5" x="1891" y="3741" width="291" height="67" rx="6"/><text class="t" x="1898" y="3761.7"><tspan x="1898" dy="0">第二，某医学司法鉴定中心并没有要求被申请</tspan><tspan x="1898" dy="17.9">人重新拍片确认伤情，依据没有注明拍片时间</tspan><tspan x="1898" dy="17.9">和片子编号的X片作出鉴定结论违法。</tspan></text></g>
<g id="n5_h1b1"><rect class="s5" x="2210" y="3706" width="290" height="138" rx="6"/><text class="t" x="2217" y="3726.7"><tspan x="2217" dy="0">被申请人受伤经过康复治疗后，伤势可以有所</tspan><tspan x="2217" dy="17.9">好转，青岛九鼎医学司法鉴定中心应当要求被</tspan><tspan x="2217" dy="17.9">申请人重新拍片，根据恢复情况作出鉴定结论</tspan><tspan x="2217" dy="17.9">。另外，被申请人提供的X片没有拍片时间和</tspan><tspan x="2217" dy="17.9">片子编号，无法证实是针对被申请人伤情所拍</tspan><tspan x="2217" dy="17.9">的，某医学司法鉴定中心却据此认定被申请人</tspan><tspan x="2217" dy="17.9">伤情，依据何在!!</tspan></text></g>
<g id="n5_h2"><rect class="s5" x="1574" y="3910" width="291" height="49" rx="6"/><text class="t" x="1581" y="3930.7"><tspan x="1581" dy="0">二、法院对法医临床司法鉴定书予以采纳，程</tspan><tspan x="1581" dy="17.9">序违法。</tspan></text></g>
<g id="n5_h2a"><rect class="s5" x="1891" y="3874" width="291" height="121" rx="6"/><text class="t" x="1898" y="3894.7"><tspan x="1898" dy="0">申请人在对司法鉴定书进行质证时，仅表示对</tspan><tspan x="1898" dy="17.9">真实性没有异议，对内容是否有异议并没有明</tspan><tspan x="1898" dy="17.9">确表态司法鉴定书内容部分并没有经过当事人</tspan><tspan x="1898" dy="17.9">质证程序，根据《^v^民事诉讼法》规定，</tspan><tspan x="1898" dy="17.9">未经质证的证据不能作为定案的依据，法院采</tspan><tspan x="1898" dy="17.9">纳程序违法。</tspan></text></g>
<g id="n5_h3"><rect class="s5" x="1574" y="4163" width="291" height="49" rx="6"/><text class="t" x="1581" y="4183.7"><tspan x="1581" dy="0">三、申请人对被申请人单方委托鉴定机构作出</tspan><tspan x="1581" dy="17.9">的鉴定结论有权申请重新鉴定。</tspan></text></g>
<g id="n5_h3a"><rect class="s5" x="1891" y="4025" width="291" height="156" rx="6"/><text class="t" x="1898" y="4045.7"><tspan x="1898" dy="0">《最高人民法院关于民事诉讼证据的若干规定</tspan><tspan x="1898" dy="17.9">》第二十六条规定，当事人申请鉴定经人民法</tspan><tspan x="1898" dy="17.9">院同意后溲伤方当事人协商确定有鉴定资格的</tspan><tspan x="1898" dy="17.9">鉴定机构、鉴定人员媿商不成的由人民法院指</tspan><tspan x="1898" dy="17.9">定。青岛九鼎医学司法鉴定中心即非申请人与</tspan><tspan x="1898" dy="17.9">被申请人协商确定的，亦非莱西市人民法院指</tspan><tspan x="1898" dy="17.9">定的，根据《最高人民法院关于民事诉讼证据</tspan><tspan x="1898" dy="17.9">的若干规定》</tspan></text></g>
<g id="n5_h3b"><rect class="s5" x="1891" y="4247" width="291" height="49" rx="6"/><text class="t" x="1898" y="4267.7"><tspan x="1898" dy="0">第二十八条规定，申请人有权申请重新鉴定</tspan><tspan x="1898" dy="17.9">。</tspan></text></g>
<g id="n5_h3b1"><rect class="s5" x="2210" y="4212" width="290" height="49" rx="6"/><text class="t" x="2217" y="4232.7"><tspan x="2217" dy="0">综上所述，为维护申请人的合法权益，确保司</tspan><tspan x="2217" dy="17.9">法的公正，特申请重新鉴定，望批准。</tspan></text></g>
<g id="n5_h3b2"><rect class="s5" x="2210" y="4291" width="109" height="31" rx="6"/><text class="t" x="2217" y="4311.7">某中级人民法院</text></g>
<g id="n5_5"><rect class="s5" x="1451" y="4419" width="67" height="31" rx="6"/><text class="t" x="1458" y="4439.7">申请人：</text></g>
<g id="n5_5a"><rect class="s5" x="1547" y="4353" width="206" height="31" rx="6"/><text class="t" x="1554" y="4373.7">医疗纠纷推荐律师：郭明飞律师</text></g>
<g id="n5_5b"><rect class="s5" x="1547" y="4414" width="290" height="174" rx="6"/><text class="t" x="1554" y="4434.7"><tspan x="1554" dy="0">郭明飞律师，为黑龙江正开律师所创办者,主</tspan><tspan x="1554" dy="17.9">任律师。从事法律实践工作20xx年。擅长办</tspan><tspan x="1554" dy="17.9">理公司诉讼非诉讼法律事务、合同纠纷、劳动</tspan><tspan x="1554" dy="17.9">纠纷、房地产案伯、知识产权纠纷，有丰富的</tspan><tspan x="1554" dy="17.9">法律实践经验。为人诚实守信。现为中国船舶</tspan><tspan x="1554" dy="17.9">重工集团 七O三研究所、哈尔滨工业大学下</tspan><tspan x="1554" dy="17.9">属多家高科技公司、远达药业集团、哈尔滨水</tspan><tspan x="1554" dy="17.9">务投资有限公司等30余单位和大型企业集团</tspan><tspan x="1554" dy="17.9">的法律顾问。</tspan></text></g>
</g>
</g>
</svg>
